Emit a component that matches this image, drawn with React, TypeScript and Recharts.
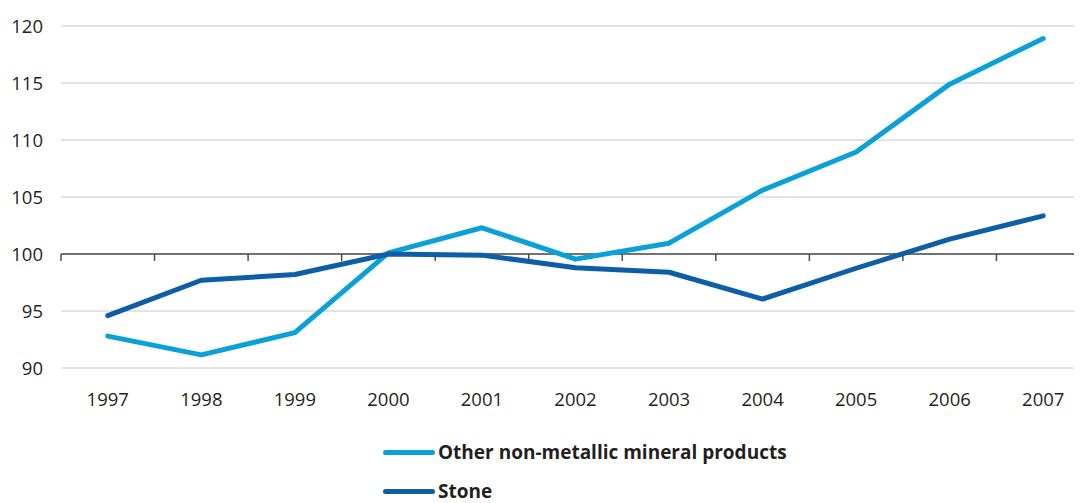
import React from 'react';
import { LineChart, Line, XAxis, YAxis, CartesianGrid, ReferenceLine, Legend } from 'recharts';

const years = ['1997', '1998', '1999', '2000', '2001', '2002', '2003', '2004', '2005', '2006', '2007'];
const otherMineral = [92.8, 91.15, 93.1, 100.1, 102.3, 99.55, 100.95, 105.6, 108.95, 114.9, 118.9];
const stone = [94.6, 97.7, 98.2, 100.0, 99.9, 98.8, 98.4, 96.05, 98.75, 101.3, 103.35];
const yTicks = [90, 95, 100, 105, 110, 115, 120];

const seriesNames = ['Other non-metallic mineral products', 'Stone'];
const colors = ['#0aa0d8', '#0d5ea6'];

const data = years.map((y, i) => ({ year: y, other: otherMineral[i], stone: stone[i] }));

const FONT = '"Open Sans", "Noto Sans", sans-serif';
const TEXT = '#231f20';

const LegendContent = () => (
  <div style={{ position: 'relative', width: 1090, height: 85, fontFamily: FONT }}>
    {seriesNames.map((name, i) => (
      <div key={name} style={{ position: 'absolute', left: 375, top: i === 0 ? 34 : 73, height: 0 }}>
        <div style={{ position: 'absolute', left: 0, top: -2.5, width: 52, height: 5, borderRadius: 2.5, background: colors[i] }} />
        <div style={{ position: 'absolute', left: 55, top: -14, whiteSpace: 'nowrap', fontWeight: 700, fontSize: 19, lineHeight: '28px', color: TEXT }}>{name}</div>
      </div>
    ))}
  </div>
);

export default function App() {
  return (
    <div style={{ width: 1074, height: 495, overflow: 'hidden' }}>
      <LineChart width={1090} height={495} data={data} margin={{ top: 18, right: 8, bottom: 0, left: 0 }}>
        <CartesianGrid vertical={false} stroke="#c8c8c8" strokeWidth={1} />
        <XAxis
          dataKey="year"
          scale="band"
          axisLine={false}
          tickLine={false}
          tickSize={0}
          tickMargin={25}
          height={50}
          interval={0}
          tick={{ fill: TEXT, fontSize: 18.5, fontFamily: FONT }}
        />
        <YAxis
          domain={[90, 120]}
          ticks={yTicks}
          axisLine={false}
          tickLine={false}
          tickSize={0}
          tickMargin={18}
          width={53}
          tick={{ fill: TEXT, fontSize: 18.5, fontFamily: FONT }}
        />
        <ReferenceLine y={100} stroke="#4d4d4d" strokeWidth={1.5} />
        {years.map((y) => (
          <ReferenceLine
            key={'t' + y}
            segment={[{ x: y, y: 100 }, { x: y, y: 99.39 }]}
            position="start"
            stroke="#4d4d4d"
            strokeWidth={1.5}
          />
        ))}
        <Line type="linear" dataKey="other" name={seriesNames[0]} stroke={colors[0]} strokeWidth={5} dot={false} strokeLinecap="round" strokeLinejoin="round" isAnimationActive={false} />
        <Line type="linear" dataKey="stone" name={seriesNames[1]} stroke={colors[1]} strokeWidth={5} dot={false} strokeLinecap="round" strokeLinejoin="round" isAnimationActive={false} />
        <Legend verticalAlign="bottom" height={85} content={<LegendContent />} wrapperStyle={{ left: 0, width: 1090 }} />
      </LineChart>
    </div>
  );
}
